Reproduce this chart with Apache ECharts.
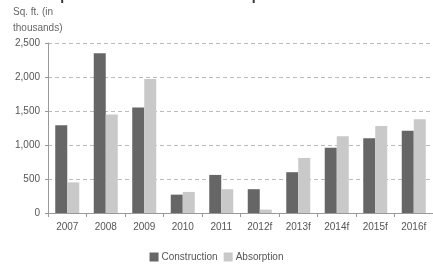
<!DOCTYPE html>
<html>
<head>
<meta charset="utf-8">
<script src="https://cdn.jsdelivr.net/npm/echarts@6/dist/echarts.min.js"></script>
<style>
html, body { margin: 0; padding: 0; background: #fff; }
#main { width: 433px; height: 268px; }
</style>
</head>
<body>
<div id="main"></div>
<script>
var years = ['2007', '2008', '2009', '2010', '2011', '2012f', '2013f', '2014f', '2015f', '2016f'];
var construction = [1290, 2350, 1550, 270, 560, 350, 600, 960, 1100, 1210];
var absorption = [450, 1450, 1970, 310, 350, 50, 810, 1130, 1280, 1380];
var yTicks = [0, 500, 1000, 1500, 2000, 2500];

var font = '"Liberation Sans Narrow", "Liberation Sans", Arial, sans-serif';
var myChart = echarts.init(document.getElementById('main'));

var option = {
	animation: false,
	textStyle: { fontFamily: font },
	title: {
		text: 'Office space construction and absorption',
		left: 4,
		top: -16,
		textStyle: { fontSize: 14, fontWeight: 'bold', color: '#333', fontFamily: font }
	},
	legend: {
		data: ['Construction', 'Absorption'],
		bottom: 1,
		left: 'center',
		itemWidth: 9,
		itemHeight: 9,
		itemGap: 6,
		icon: 'rect',
		textStyle: { fontSize: 10, color: '#555', padding: [0, 0, 0, -2] }
	},
	grid: {
		left: 48,
		top: 43,
		width: 392,
		height: 170
	},
	xAxis: {
		type: 'category',
		data: years,
		axisLine: { lineStyle: { color: '#999' } },
		axisTick: { show: true, length: 4, lineStyle: { color: '#999' } },
		axisLabel: { color: '#555', fontSize: 10, margin: 9 }
	},
	yAxis: {
		type: 'value',
		name: 'Sq. ft. (in\nthousands)',
		nameLocation: 'end',
		nameGap: 7,
		nameTextStyle: { color: '#666', fontSize: 10, align: 'left', padding: [0, 0, 0, -35], lineHeight: 16 },
		min: yTicks[0],
		max: yTicks[yTicks.length - 1],
		interval: 500,
		axisLine: { show: true, lineStyle: { color: '#999' } },
		axisTick: { show: true, length: 3, lineStyle: { color: '#999' } },
		axisLabel: {
			color: '#555',
			fontSize: 10,
			margin: 8,
			formatter: function(v) { return v.toLocaleString('en-US'); }
		},
		splitLine: { show: true, lineStyle: { color: '#bbb', type: [4, 3] } }
	},
	series: [{
		name: 'Construction',
		type: 'bar',
		data: construction,
		barWidth: 12,
		barGap: '0%',
		itemStyle: { color: '#666666' }
	}, {
		name: 'Absorption',
		type: 'bar',
		data: absorption,
		barWidth: 12,
		itemStyle: { color: '#c9c9c9' }
	}]
};
myChart.setOption(option);
</script>
</body>
</html>
